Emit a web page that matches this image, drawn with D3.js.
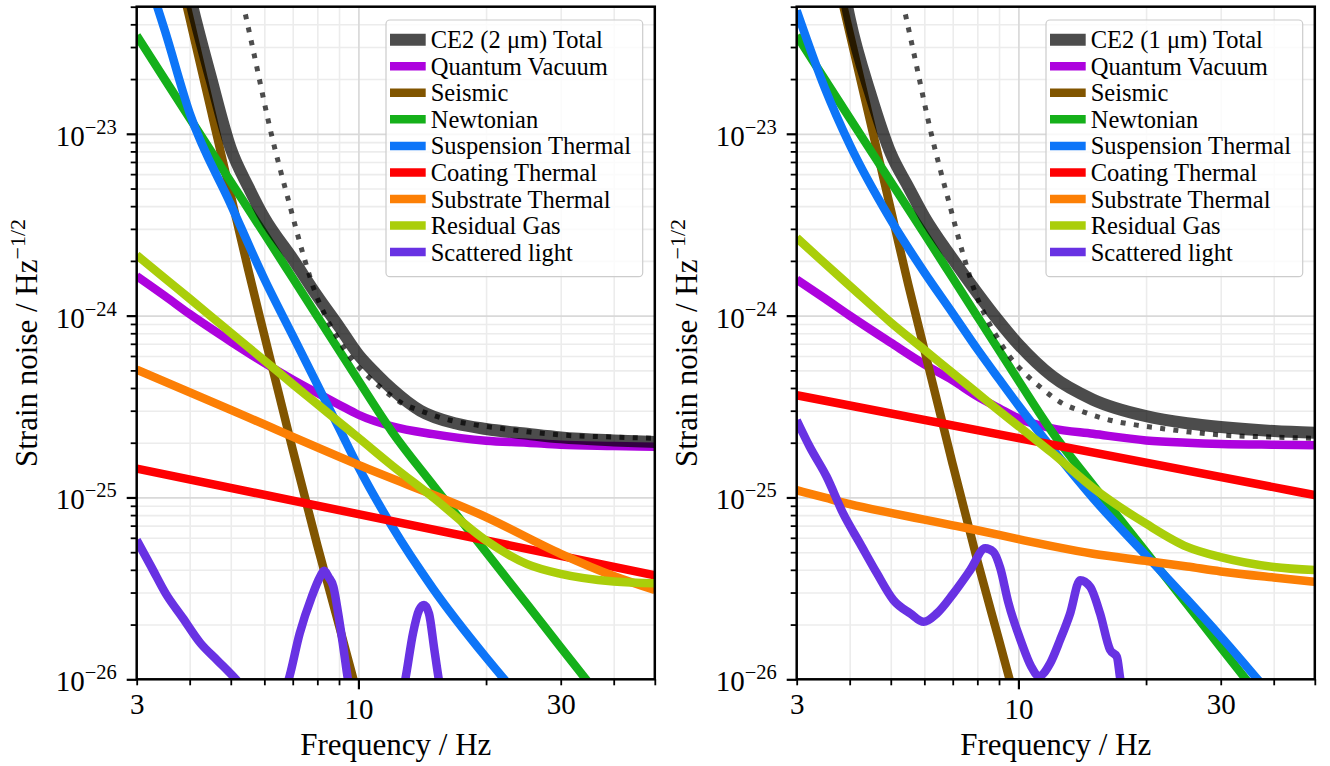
<!DOCTYPE html>
<html><head><meta charset="utf-8">
<script src="https://cdn.jsdelivr.net/npm/d3@7"></script>
<style>
html,body{margin:0;padding:0;background:#fff;}
svg{display:block;}
svg text{font-family:"Liberation Serif","Times New Roman","DejaVu Serif",serif;}
</style></head><body>
<svg id="chart" width="1330" height="766"></svg>
<script>
// ---------- DATA (frequency in Hz, strain noise in Hz^-1/2) ----------
const total2um = [[3.8,1.0e-22],[4,5.8e-23],[4.5,2.0e-23],[5,8.3e-24],[5.5,5.1e-24],[6,3.45e-24],[7,2.05e-24],[8,1.28e-24],[9,8.7e-25],[10,6.1e-25],[11,4.8e-25],[12,3.95e-25],[14,3.0e-25],[17,2.55e-25],[20,2.38e-25],[25,2.24e-25],[30,2.14e-25],[40,2.06e-25],[50,2.02e-25]];
const quantum2um = [[3,1.65e-24],[3.5,1.28e-24],[4,1.02e-24],[5,7.2e-25],[6,5.5e-25],[7,4.45e-25],[8,3.75e-25],[9,3.24e-25],[10,2.85e-25],[12,2.46e-25],[15,2.23e-25],[20,2.05e-25],[25,2.0e-25],[30,1.95e-25],[40,1.92e-25],[50,1.9e-25]];
const seismic2um = [[3,7.6e-22],[3.5,1.63e-22],[4,4.3e-23],[4.5,1.32e-23],[5,4.6e-24],[5.5,1.78e-24],[6,7.8e-25],[7,1.83e-25],[8,5.45e-26],[9,1.98e-26],[10,7.9e-27],[11,3.5e-27]];
const newtonian = [[3,3.47e-23],[3.5,1.98e-23],[4,1.22e-23],[5,5.45e-24],[6,2.82e-24],[7,1.61e-24],[8,9.9e-25],[9,6.45e-25],[10,4.4e-25],[12,2.3e-25],[15,1.17e-25],[20,5.0e-26],[25,2.58e-26],[30,1.5e-26],[40,6.4e-27],[50,3.3e-27]];
const suspension2um = [[3,1.1e-22],[3.5,3.66e-23],[4,1.3e-23],[5,4.09e-24],[6,1.59e-24],[7,7.76e-25],[8,4.17e-25],[9,2.41e-25],[10,1.47e-25],[12,6.94e-26],[15,3.15e-26],[20,1.32e-26],[25,7.17e-27],[30,4.5e-27]];
const coating2um = [[3,1.44e-25],[10,8.1e-26],[50,3.73e-26]];
const substrate2um = [[3,5.05e-25],[5,3.03e-25],[10,1.51e-25],[20,7.8e-26],[30,4.9e-26],[40,3.7e-26],[50,3.1e-26]];
const residualGas2um = [[3,2.15e-24],[3.5,1.6e-24],[4,1.24e-24],[5,8.04e-25],[6,5.67e-25],[7,4.2e-25],[8,3.26e-25],[9,2.6e-25],[10,2.13e-25],[12,1.5e-25],[15,1.0e-25],[20,5.8e-26],[25,4.3e-26],[30,3.8e-26],[40,3.45e-26],[50,3.37e-26]];
const scattered2um = [[3.0,5.83e-26],[3.25,4.14e-26],[3.51,2.97e-26],[3.85,2.18e-26],[4.24,1.58e-26],[4.65,1.27e-26],[5.08,1.03e-26],[5.5,8.4e-27],[6.2,6.5e-27],[6.6,8e-27],[6.83,9.8e-27],[7.27,1.79e-26],[7.76,2.84e-26],[8.12,3.66e-26],[8.30,3.95e-26],[8.50,3.66e-26],[8.73,3.23e-26],[8.96,2.3e-26],[9.21,1.51e-26],[9.46,9.8e-27],[10.2,6e-27],[11.5,5e-27],[12.9,1.0e-26],[13.45,1.79e-26],[13.9,2.4e-26],[14.28,2.56e-26],[14.67,2.3e-26],[15.07,1.51e-26],[15.47,1.0e-26],[16.2,6e-27]];

const total1um = [[3.8,8e-23],[4,4.3e-23],[4.5,1.6e-23],[5,7.8e-24],[5.5,5.1e-24],[6,3.5e-24],[7,2.05e-24],[8,1.33e-24],[9,9.3e-25],[10,6.95e-25],[12,4.65e-25],[15,3.45e-25],[20,2.8e-25],[25,2.56e-25],[30,2.44e-25],[40,2.32e-25],[50,2.27e-25]];
const quantum1um = [[3,1.58e-24],[3.5,1.24e-24],[4,1.0e-24],[5,7.1e-25],[6,5.4e-25],[7,4.4e-25],[8,3.6e-25],[9,3.1e-25],[10,2.72e-25],[12,2.4e-25],[15,2.24e-25],[20,2.06e-25],[25,2.0e-25],[30,1.97e-25],[40,1.95e-25],[50,1.94e-25]];
const seismic1um = [[3,6.3e-22],[3.5,1.35e-22],[4,3.57e-23],[4.5,1.1e-23],[5,3.83e-24],[5.5,1.48e-24],[6,6.5e-25],[7,1.52e-25],[8,4.5e-26],[9,1.64e-26],[10,6.6e-27],[11,2.9e-27]];
const suspension1um = [[3,4.76e-23],[3.5,1.77e-23],[4,8.73e-24],[5,3.36e-24],[6,1.73e-24],[7,1.03e-24],[8,6.54e-25],[9,4.48e-25],[10,3.21e-25],[12,1.86e-25],[15,9.9e-26],[20,4.8e-26],[25,2.75e-26],[30,1.72e-26],[40,7.9e-27],[50,4.4e-27]];
const coating1um = [[3,3.65e-25],[10,2.12e-25],[50,1.03e-25]];
const substrate1um = [[3,1.096e-25],[3.5,9.97e-26],[4,9.19e-26],[5,8.22e-26],[6,7.55e-26],[7,7.03e-26],[8,6.6e-26],[10,5.9e-26],[12,5.4e-26],[15,4.9e-26],[20,4.48e-26],[25,4.17e-26],[30,3.92e-26],[40,3.63e-26],[50,3.44e-26]];
const residualGas1um = [[3,2.68e-24],[3.5,1.93e-24],[4,1.46e-24],[5,9.18e-25],[6,6.49e-25],[7,4.83e-25],[8,3.75e-25],[9,3.0e-25],[10,2.47e-25],[12,1.76e-25],[15,1.13e-25],[20,7.17e-26],[25,5.35e-26],[30,4.7e-26],[40,4.15e-26],[50,3.99e-26]];
const scattered1um = [[3.0,2.66e-25],[3.22,1.9e-25],[3.53,1.3e-25],[3.86,8.17e-26],[4.23,5.59e-26],[4.64,3.82e-26],[5.07,2.73e-26],[5.56,2.3e-26],[5.98,2.07e-26],[6.42,2.3e-26],[7.03,2.97e-26],[7.70,3.99e-26],[8.35,5.25e-26],[8.73,5.02e-26],[9.06,4.09e-26],[9.46,2.66e-26],[10.18,1.58e-26],[10.71,1.18e-26],[11.18,1.04e-26],[11.87,1.22e-26],[12.53,1.64e-26],[13.24,2.3e-26],[13.98,3.51e-26],[14.76,3.23e-26],[15.58,2.3e-26],[16.45,1.45e-26],[17.07,1.33e-26],[17.38,1.01e-26],[17.76,7.7e-27]];

const reference = [[5.25,6.3e-23],[5.65,2.87e-23],[6.23,1.0e-23],[6.89,4.04e-24],[7.42,2.14e-24],[7.90,1.35e-24],[8.35,1.0e-24],[8.90,7.63e-25],[9.55,5.92e-25],[10.37,4.8e-25],[11.37,3.97e-25],[12.53,3.35e-25],[14.27,2.95e-25],[16.45,2.66e-25],[19.02,2.5e-25],[21.96,2.39e-25],[25.37,2.29e-25],[30.5,2.2e-25],[40,2.15e-25],[51,2.11e-25]];

const totalNames = ["CE2 (2 μm) Total","CE2 (1 μm) Total"];
const seriesNames = ["Quantum Vacuum","Seismic","Newtonian","Suspension Thermal","Coating Thermal","Substrate Thermal","Residual Gas","Scattered light"];
const xTickValuesMajor = [10];
const xTickValuesMinor = [3,4,5,6,7,8,9,20,30,40,50];
const xTickLabels = new Map([[3,"3"],[10,"10"],[30,"30"]]);
const yTickValuesMajor = [1e-26,1e-25,1e-24,1e-23];
const yTickExponents = ["−26","−25","−24","−23"];
const xLabel = "Frequency / Hz";
const yLabelMain = "Strain noise / Hz";
const yLabelSup = "−1/2";

// ---------- STYLE ----------
const seriesColors = ["#ad03de","#815500","#15b01a","#0d75f8","#fe0002","#fc7f05","#aace0a","#6832e3"];
const FONT = "Liberation Serif, Times New Roman, DejaVu Serif, serif";
const panelData = [
  {offset:0, total:total2um, name:totalNames[0], series:[quantum2um,seismic2um,newtonian,suspension2um,coating2um,substrate2um,residualGas2um,scattered2um]},
  {offset:660, total:total1um, name:totalNames[1], series:[quantum1um,seismic1um,newtonian,suspension1um,coating1um,substrate1um,residualGas1um,scattered1um]}
];

const x = d3.scaleLog().domain([3,50]).range([136.7,654.8]);
const y = d3.scaleLog().domain([1e-26,5e-23]).range([679.3,6.7]);
const [X0,X1] = x.range();
const [Y0,Y1] = y.range();

const yMinor = [];
[-26,-25,-24,-23].forEach(e => { for (let m=2;m<=9;m++){ const v=m*Math.pow(10,e); if (v<=5e-23*1.0001) yMinor.push(v);} });

const line = d3.line().x(d=>x(d[0])).y(d=>y(d[1])).curve(d3.curveMonotoneX);
const svg = d3.select("#chart");

panelData.forEach((p,pi) => {
  const g = svg.append("g").attr("transform",`translate(${p.offset},0)`);
  const clipId = "clip"+pi;
  g.append("clipPath").attr("id",clipId).append("rect")
    .attr("x",X0).attr("y",Y1).attr("width",X1-X0).attr("height",Y0-Y1);

  // grid
  const styleGrid = (sel,color,w) => { sel.select(".domain").remove(); sel.selectAll("line").attr("stroke",color).attr("stroke-width",w); sel.selectAll("text").remove(); };
  g.append("g").attr("transform",`translate(0,${Y0})`)
    .call(d3.axisBottom(x).tickValues(xTickValuesMinor.filter(v=>v>3&&v<50)).tickSize(-(Y0-Y1)).tickFormat(""))
    .call(s=>styleGrid(s,"#ececec",1.6));
  g.append("g").attr("transform",`translate(${X0},0)`)
    .call(d3.axisLeft(y).tickValues(yMinor).tickSize(-(X1-X0)).tickFormat(""))
    .call(s=>styleGrid(s,"#ececec",1.6));
  g.append("g").attr("transform",`translate(0,${Y0})`)
    .call(d3.axisBottom(x).tickValues(xTickValuesMajor).tickSize(-(Y0-Y1)).tickFormat(""))
    .call(s=>styleGrid(s,"#d9d9d9",1.7));
  g.append("g").attr("transform",`translate(${X0},0)`)
    .call(d3.axisLeft(y).tickValues(yTickValuesMajor.filter(v=>v>1e-26)).tickSize(-(X1-X0)).tickFormat(""))
    .call(s=>styleGrid(s,"#d9d9d9",1.7));

  // curves
  const plot = g.append("g").attr("clip-path",`url(#${clipId})`);
  p.series.forEach((data,i) => {
    plot.append("path").datum(data).attr("d",line)
      .attr("fill","none").attr("stroke",seriesColors[i]).attr("stroke-width",8.5)
      .attr("stroke-linejoin","round");
  });
  plot.append("path").datum(p.total).attr("d",line)
    .attr("fill","none").attr("stroke","#000").attr("stroke-opacity",0.7).attr("stroke-width",12)
    .attr("stroke-linejoin","round");
  plot.append("path").datum(reference).attr("d",line)
    .attr("fill","none").attr("stroke","#000").attr("stroke-opacity",0.7).attr("stroke-width",5)
    .attr("stroke-dasharray","5 8.3");

  // spines
  g.append("rect").attr("x",X0).attr("y",Y1).attr("width",X1-X0).attr("height",Y0-Y1)
    .attr("fill","none").attr("stroke","#000").attr("stroke-width",2.5);

  // ticks
  const tickStyle = (sel,w) => { sel.attr("font-family",FONT); sel.select(".domain").remove(); sel.selectAll("line").attr("stroke","#000").attr("stroke-width",w); };
  const xMin = g.append("g").attr("transform",`translate(0,${Y0})`)
    .call(d3.axisBottom(x).tickValues(xTickValuesMinor).tickSize(6).tickFormat(d=>xTickLabels.get(d)||""))
    .call(s=>tickStyle(s,1.8));
  xMin.selectAll("text").attr("y",34.5).attr("dy",0).attr("font-size",29).attr("font-family",FONT).attr("fill","#000");
  const xMaj = g.append("g").attr("transform",`translate(0,${Y0})`)
    .call(d3.axisBottom(x).tickValues(xTickValuesMajor).tickSize(10).tickFormat(d=>xTickLabels.get(d)||""))
    .call(s=>tickStyle(s,2.2));
  xMaj.selectAll("text").attr("y",39.5).attr("dy",0).attr("font-size",29).attr("font-family",FONT).attr("fill","#000");

  g.append("g").attr("transform",`translate(${X0},0)`)
    .call(d3.axisLeft(y).tickValues(yMinor).tickSize(6).tickFormat(""))
    .call(s=>tickStyle(s,1.8));
  const yMaj = g.append("g").attr("transform",`translate(${X0},0)`)
    .call(d3.axisLeft(y).tickValues(yTickValuesMajor).tickSize(10).tickFormat(""))
    .call(s=>tickStyle(s,2.2));
  yMaj.selectAll(".tick text").each(function(d,i){
    const t = d3.select(this);
    t.attr("x",-20).attr("y",11.5).attr("dy",0).attr("text-anchor","end")
      .attr("font-family",FONT).attr("fill","#000").attr("font-size",29);
    t.append("tspan").text("10");
    t.append("tspan").attr("dy",-12).attr("font-size",20.5).text(yTickExponents[i]);
  });

  // axis labels
  g.append("text").attr("x",(X0+X1)/2).attr("y",755).attr("text-anchor","middle")
    .attr("font-family",FONT).attr("font-size",31).attr("fill","#000").text(xLabel);
  const yl = g.append("text").attr("transform",`translate(37,${(Y0+Y1)/2}) rotate(-90)`)
    .attr("text-anchor","middle").attr("font-family",FONT).attr("font-size",31).attr("fill","#000");
  yl.append("tspan").text(yLabelMain);
  yl.append("tspan").attr("dy",-12).attr("font-size",22).text(yLabelSup);

  // legend
  const lg = g.append("g");
  lg.append("rect").attr("x",386).attr("y",20).attr("width",256.7).attr("height",256.7).attr("rx",4)
    .attr("fill","#fff").attr("fill-opacity",0.8).attr("stroke","#cccccc").attr("stroke-width",1.2);
  const entries = [{name:p.name,color:"#000",op:0.7,w:12}].concat(seriesNames.map((n,i)=>({name:n,color:seriesColors[i],op:1,w:8.5})));
  entries.forEach((e,i) => {
    const cy = 39.7 + i*26.55;
    lg.append("line").attr("x1",390).attr("x2",425.7).attr("y1",cy).attr("y2",cy)
      .attr("stroke",e.color).attr("stroke-opacity",e.op).attr("stroke-width",e.w);
    lg.append("text").attr("x",430.7).attr("y",cy+8.5).attr("font-family",FONT).attr("font-size",24.5)
      .attr("fill","#000").text(e.name);
  });
});
</script>
</body></html>
